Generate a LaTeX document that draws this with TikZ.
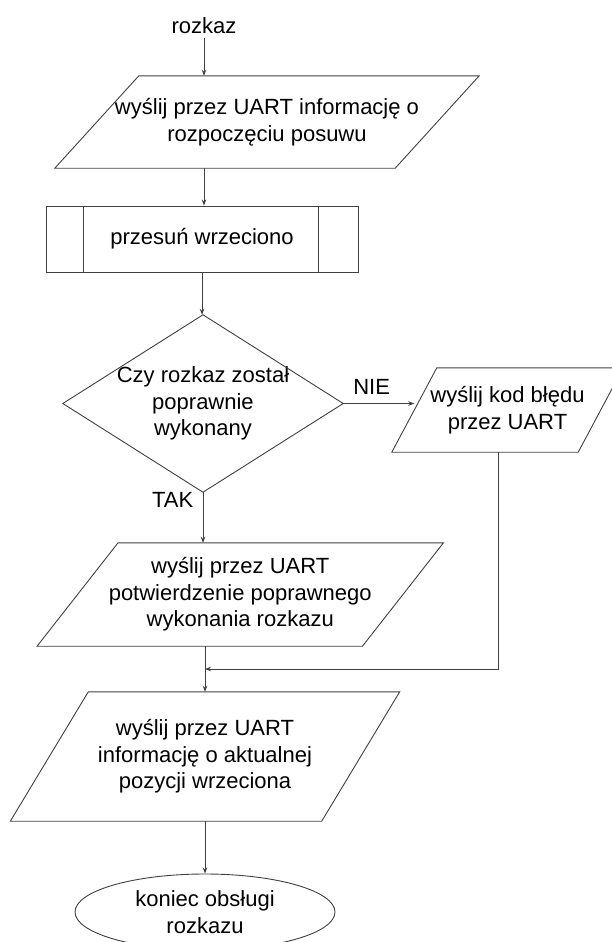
\documentclass[tikz,border=0pt]{standalone}
\usepackage{fontspec}
\setmainfont{Liberation Sans}
\usetikzlibrary{shapes.geometric,arrows.meta}

\begin{document}
\begin{tikzpicture}[x=1pt,y=-1pt,font=\fontsize{22}{26.5}\selectfont,
	line/.style={draw=black!75, line width=0.9pt},
	arr/.style={line, -{Stealth[length=6pt,width=4.5pt]}},
	box/.style={inner sep=0pt, align=center},
	proc/.style={box, line},
	stop/.style={box, ellipse, line}]
			\useasboundingbox (0,0) rectangle (612,942);
			% bloki
			\node[box, inner sep=4pt] (start) at (204,26) {rozkaz};
			\node[box, minimum width=340, minimum height=92] (p1) at (267,122) {wyślij przez UART informację o\\rozpoczęciu posuwu};
			\node[proc, minimum width=312, minimum height=66] (proc) at (202,239) {przesuń wrzeciono};
			\node[box, minimum width=280, minimum height=177] (dec) at (203,403.5) {Czy rozkaz został\\poprawnie\\wykonany};
			\node[box, minimum width=186, minimum height=84] (err) at (507.5,410) {wyślij kod błędu\\przez UART};
			\node[box, minimum width=325, minimum height=103] (p2) at (240.25,594.5) {wyślij przez UART\\potwierdzenie poprawnego\\wykonania rozkazu};
			\node[box, minimum width=311, minimum height=129] (p3) at (205,756.5) {wyślij przez UART\\informację o aktualnej\\pozycji wrzeciona};
			\node[stop, minimum width=260, minimum height=76] (stop) at (205,912) {koniec obsługi\\rozkazu};
			% ksztalty
			\foreach \n/\s in {p1/42,err/22.5,p2/40.5,p3/39}
				\draw[line] ([xshift=\s]\n.north west) -- ([xshift=\s]\n.north east) -- ([xshift=-\s]\n.south east) -- ([xshift=-\s]\n.south west) -- cycle;
			\draw[line] ([xshift=38]proc.north west) -- ([xshift=38]proc.south west);
			\draw[line] ([xshift=-40]proc.north east) -- ([xshift=-40]proc.south east);
			\draw[line] (dec.north) -- (dec.east) -- (dec.south) -- (dec.west) -- cycle;
			% polaczenia
			\draw[arr] (start) -- (start |- p1.north);
			\draw[arr] (start |- p1.south) -- (start |- proc.north);
			\draw[arr] (proc.south) -- (proc.south |- dec.north);
			\draw[arr] (dec.east) -- (dec.east -| err.west) node[pos=0.4, above=5pt] {NIE};
			\draw[arr] (dec.south) -- (dec.south |- p2.north) node[pos=0.15, left=6pt] {TAK};
			\coordinate (merge) at (205,669);
			\draw[arr] ([xshift=-9.5]err.south) |- (merge);
			\draw[arr] (p3.north |- p2.south) -- (p3.north);
			\draw[arr] (p3.south) -- (stop.north);
		\end{tikzpicture}
\end{document}
